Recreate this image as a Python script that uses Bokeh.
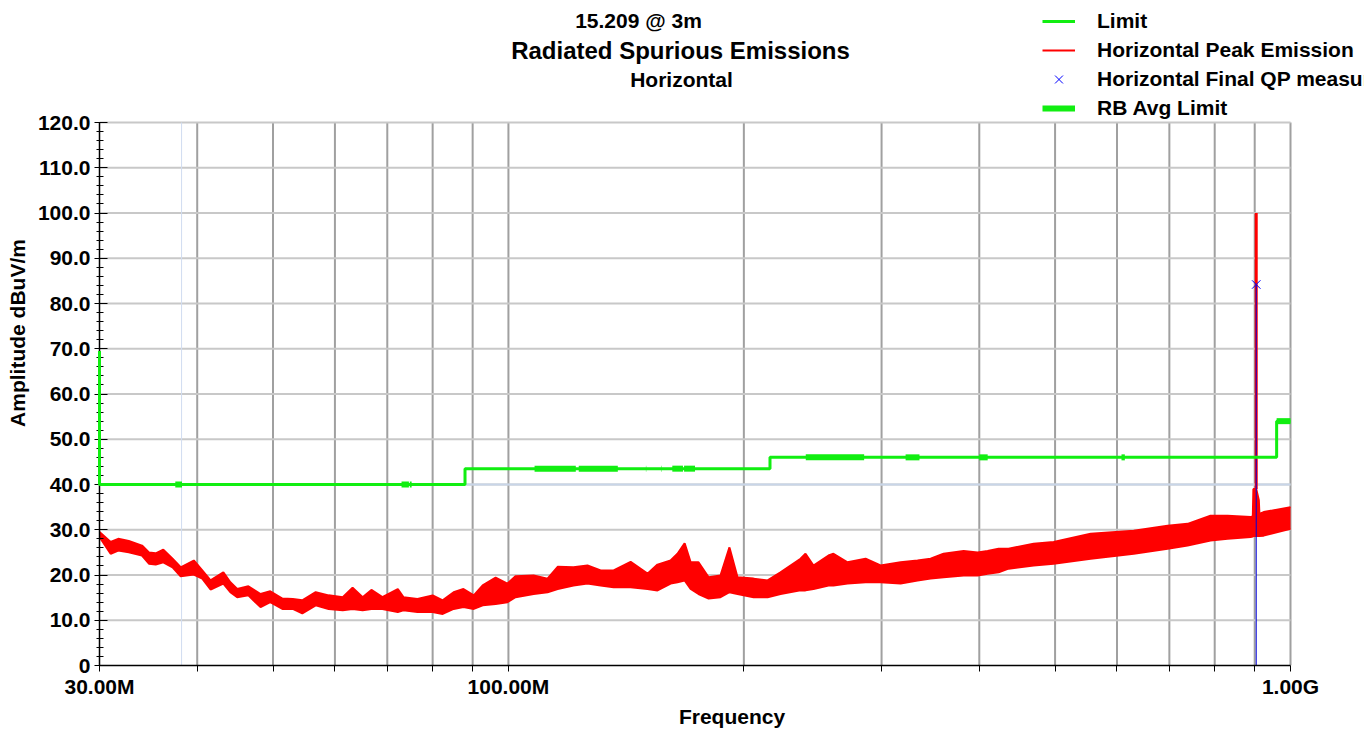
from bokeh.plotting import figure
from bokeh.models import FixedTicker, PrintfTickFormatter, Legend, LegendItem, Label
from bokeh.embed import file_html
from bokeh.resources import INLINE
import math

# ---------------- data ----------------
trace_freq_mhz = [30.0, 31.0, 31.7, 32.7, 34.0, 34.7, 35.4, 36.2, 37.2, 38.1, 39.6, 40.6,
                  41.6, 43.2, 44.1, 45.0, 46.5, 48.2, 49.6, 51.4, 53.0, 54.5, 56.7, 58.9,
                  61.4, 63.2, 65.1, 66.8, 69.0, 72.2, 73.4, 76.5, 80.0, 82.4, 85.1, 87.6,
                  90.3, 92.7, 96.3, 99.7, 102.1, 107.7, 112.2, 115.6, 121.1, 126.2, 131.2,
                  136.3, 143.3, 150.6, 155.1, 161.2, 164.5, 168.0, 171.0, 175.0, 180.3,
                  186.7, 191.7, 196.3, 205.8, 214.5, 222.8, 236.3, 239.8, 245.5, 256.6,
                  260.4, 271.4, 286.2, 299.1, 317.3, 333.5, 346.6, 360.1, 382.0, 398.0,
                  409.9, 423.4, 436.0, 469.4, 497.9, 555.2, 630.3, 696.4, 738.6, 790.2,
                  830.9, 889.3, 895.0, 896.5, 904.0, 911.0, 912.5, 924.0, 1000.0]
trace_upper_db = [29.5, 27.3, 28.0, 27.5, 26.5, 25.0, 24.8, 25.6, 23.6, 21.7, 23.2, 21.0,
                  18.8, 20.6, 18.4, 16.9, 17.5, 15.8, 16.4, 14.8, 14.7, 14.4, 16.2, 15.5,
                  15.1, 17.2, 15.1, 16.7, 15.1, 16.9, 15.1, 14.7, 15.5, 14.4, 16.2, 16.9,
                  15.5, 17.7, 19.4, 18.1, 19.7, 19.9, 19.2, 21.8, 21.7, 22.1, 21.0,
                  21.0, 22.9, 20.3, 22.3, 23.2, 24.7, 27.0, 22.8, 22.8, 19.5,
                  19.9, 26.1, 19.5, 19.2, 18.8, 20.6, 23.6, 24.7, 22.1, 24.3,
                  24.7, 22.8, 23.6, 22.1, 22.8, 23.2, 23.6, 24.7, 25.3, 25.0,
                  25.3, 25.8, 25.8, 26.9, 27.3, 29.1, 29.8, 30.9, 31.3, 33.1,
                  33.1, 32.8, 33.0, 39.0, 39.0, 36.5, 33.5, 33.9, 35.0]
trace_lower_db = [28.4, 24.7, 25.4, 25.0, 24.3, 22.5, 22.3, 22.8, 21.7, 19.7, 20.1, 19.2,
                  16.8, 18.1, 16.2, 15.1, 15.5, 12.9, 14.0, 12.5, 12.5, 11.5, 13.3, 12.5,
                  12.2, 12.5, 12.2, 12.5, 12.5, 11.8, 12.2, 11.8, 11.8, 11.4, 12.5, 12.9,
                  12.5, 13.3, 13.6, 14.0, 15.1, 15.8, 16.2, 16.9, 17.7, 18.1, 17.7,
                  17.3, 17.3, 16.9, 16.6, 18.1, 18.4, 18.8, 16.9, 15.8, 14.8,
                  15.1, 16.2, 15.8, 15.1, 15.1, 15.8, 16.6, 16.6, 16.9, 17.7,
                  17.7, 18.1, 18.4, 18.4, 18.1, 18.8, 19.2, 19.5, 19.9, 19.9,
                  20.3, 20.6, 21.4, 22.1, 22.5, 23.6, 24.7, 25.8, 26.5, 27.6,
                  28.0, 28.4, 28.5, 28.6, 28.6, 28.6, 28.6, 28.7, 30.2]

limit_freq_mhz = [30, 30, 88, 88, 216, 216, 960, 960, 1000]
limit_db = [69.5, 40, 40, 43.5, 43.5, 46, 46, 54, 54]

rb_start_mhz = [37.5, 73.0, 74.8, 108.0, 123.0, 149.9, 156.7, 162.0125, 167.72, 240.0, 322.0, 399.9, 608.0, 960.0]
rb_stop_mhz = [38.25, 74.6, 75.2, 121.94, 138.0, 150.05, 156.9, 167.17, 173.2, 285.0, 335.4, 410.0, 614.0, 1000.0]
rb_level_db = [40, 40, 40, 43.5, 43.5, 43.5, 43.5, 43.5, 43.5, 46, 46, 46, 46, 54]

qp_freq_mhz = [904.0]
qp_db = [84.2]
spike_freq_mhz = 904.0
spike_base_db = 39.0
spike_peak_db = 100.0

display_line_db = 40.0
marker_line_mhz = 38.2

f_min, f_max = 30, 1000
y_min, y_max = 0, 120
x_ticks_mhz = [30, 40, 50, 60, 70, 80, 90, 100, 200, 300, 400, 500, 600, 700, 800, 900, 1000]
x_tick_labels = {30: "30.00M", 100: "100.00M", 1000: "1.00G"}
y_ticks = list(range(0, 121, 10))
y_minor_ticks = [v for v in range(0, 121, 2) if v % 10]

title_lines = ["15.209 @ 3m", "Radiated Spurious Emissions", "Horizontal"]
legend_labels = ["Limit", "Horizontal Peak Emission", "Horizontal Final QP measurement", "RB Avg Limit"]

# ---------------- figure ----------------
FONT = "Liberation Sans"
GREEN = "#11ee11"
W, H = 1364, 730
LEFT, BOTTOM = 99, 65          # axis borders
FRAME_TOP_PAD = 122            # space above the 120 dB line (titles + legend live there)
RIGHT_PAD = 74                 # space right of 1 GHz (legend text runs there)

plot_h = H - BOTTOM
plot_w = W - LEFT
px_per_db = (plot_h - FRAME_TOP_PAD) / (y_max - y_min)
y_top = y_min + plot_h / px_per_db
px_per_dec = (plot_w - RIGHT_PAD) / math.log10(f_max / f_min)
x_right = f_max * 10 ** (RIGHT_PAD / px_per_dec)

p = figure(width=W, height=H, x_axis_type="log", x_range=(f_min, x_right), y_range=(y_min, y_top),
           output_backend="svg", toolbar_location=None, title=None,
           min_border_left=LEFT, min_border_right=0, min_border_top=0, min_border_bottom=BOTTOM)
p.outline_line_color = None
p.background_fill_color = "white"
p.border_fill_color = "white"
p.xgrid.visible = False
p.ygrid.visible = False

# axes
p.xaxis.ticker = FixedTicker(ticks=x_ticks_mhz, minor_ticks=[])
p.xaxis.bounds = (f_min, f_max)
p.xaxis.major_label_overrides = {t: x_tick_labels.get(t, "") for t in x_ticks_mhz}
p.xaxis.major_tick_in = 0
p.xaxis.major_tick_out = 6
p.xaxis.major_label_standoff = 3
p.xaxis.axis_label = "Frequency"
p.xaxis.axis_label_standoff = 4

p.yaxis.ticker = FixedTicker(ticks=y_ticks, minor_ticks=y_minor_ticks)
p.yaxis.bounds = (y_min, y_max)
p.yaxis.formatter = PrintfTickFormatter(format="%.1f")
p.yaxis.major_label_overrides = {0: "0"}
p.yaxis.major_tick_in = 8
p.yaxis.major_tick_out = 5
p.yaxis.minor_tick_in = 4
p.yaxis.minor_tick_out = 3
p.yaxis.major_label_standoff = 4
p.yaxis.axis_label = "Amplitude dBuV/m"
p.yaxis.axis_label_standoff = 6

for ax in (p.xaxis, p.yaxis):
    ax.axis_line_color = "black"
    ax.axis_line_width = 1.5
    ax.major_tick_line_color = "black"
    ax.minor_tick_line_color = "black"
    ax.major_label_text_font = FONT
    ax.major_label_text_font_style = "bold"
    ax.major_label_text_font_size = "21px"
    ax.major_label_text_color = "black"
    ax.axis_label_text_font = FONT
    ax.axis_label_text_font_style = "bold"
    ax.axis_label_text_font_size = "21px"
    ax.axis_label_text_color = "black"

# grid, limited to the data area
vx = [t for t in x_ticks_mhz if t > f_min]
p.segment(x0=vx, y0=[y_min] * len(vx), x1=vx, y1=[y_max] * len(vx),
          line_color="#a0a0a0", line_width=2, level="underlay")
hy = [t for t in y_ticks if t > y_min]
p.segment(x0=[f_min] * len(hy), y0=hy, x1=[f_max] * len(hy), y1=hy,
          line_color="#c8c8c8", line_width=2, level="underlay")

# light display / marker lines
p.segment(x0=[f_min], y0=[display_line_db], x1=[f_max], y1=[display_line_db],
          line_color="#c8d5e8", line_width=2, level="underlay")
p.segment(x0=[marker_line_mhz], y0=[y_min], x1=[marker_line_mhz], y1=[y_max],
          line_color="#d0dcf0", line_width=1, level="underlay")

# peak emission trace
p.varea(x=trace_freq_mhz, y1=trace_lower_db, y2=trace_upper_db, fill_color="#ff0000")
r_peak = p.line(trace_freq_mhz, trace_upper_db, line_color="#ff0000", line_width=2)
p.line(trace_freq_mhz, trace_lower_db, line_color="#ff0000", line_width=2)
p.segment(x0=[spike_freq_mhz], y0=[spike_base_db], x1=[spike_freq_mhz], y1=[spike_peak_db],
          line_color="#ff0000", line_width=3)

# limits
r_limit = p.line(limit_freq_mhz, limit_db, line_color=GREEN, line_width=3, level="overlay")
rb_xs = [[a, b] for a, b in zip(rb_start_mhz, rb_stop_mhz)]
rb_ys = [[v, v] for v in rb_level_db]
r_rb = p.multi_line(rb_xs, rb_ys, line_color=GREEN, line_width=6, level="overlay")

# QP measurement
p.segment(x0=qp_freq_mhz, y0=[y_min] * len(qp_db), x1=qp_freq_mhz, y1=qp_db,
          line_color="#0000dd", line_width=1)
r_qp = p.scatter(qp_freq_mhz, qp_db, marker="x", size=12, line_color="#0000ff", line_width=1)

# titles (screen units, measured from the frame's bottom-left corner)
title_cx = [638, 680, 681]
title_cy = [20, 50, 79]
title_sizes = ["21px", "24px", "21px"]
for txt, cx, cy, sz in zip(title_lines, title_cx, title_cy, title_sizes):
    p.add_layout(Label(x=cx - LEFT, y=H - BOTTOM - cy, x_units="screen", y_units="screen", text=txt,
                       text_align="center", text_baseline="middle", text_font=FONT,
                       text_font_style="bold", text_font_size=sz, text_color="black"))

legend = Legend(items=[LegendItem(label=lab, renderers=[r])
                       for lab, r in zip(legend_labels, [r_limit, r_peak, r_qp, r_rb])],
                location=(1042 - LEFT, H - BOTTOM - 122), orientation="vertical",
                label_text_font=FONT, label_text_font_style="bold", label_text_font_size="21px",
                label_text_color="black", glyph_width=33, glyph_height=28, label_height=28,
                label_standoff=22, spacing=1, padding=0, margin=0,
                border_line_color=None, background_fill_alpha=0)
p.add_layout(legend, "center")

open("out.html", "w").write(file_html(p, INLINE))
